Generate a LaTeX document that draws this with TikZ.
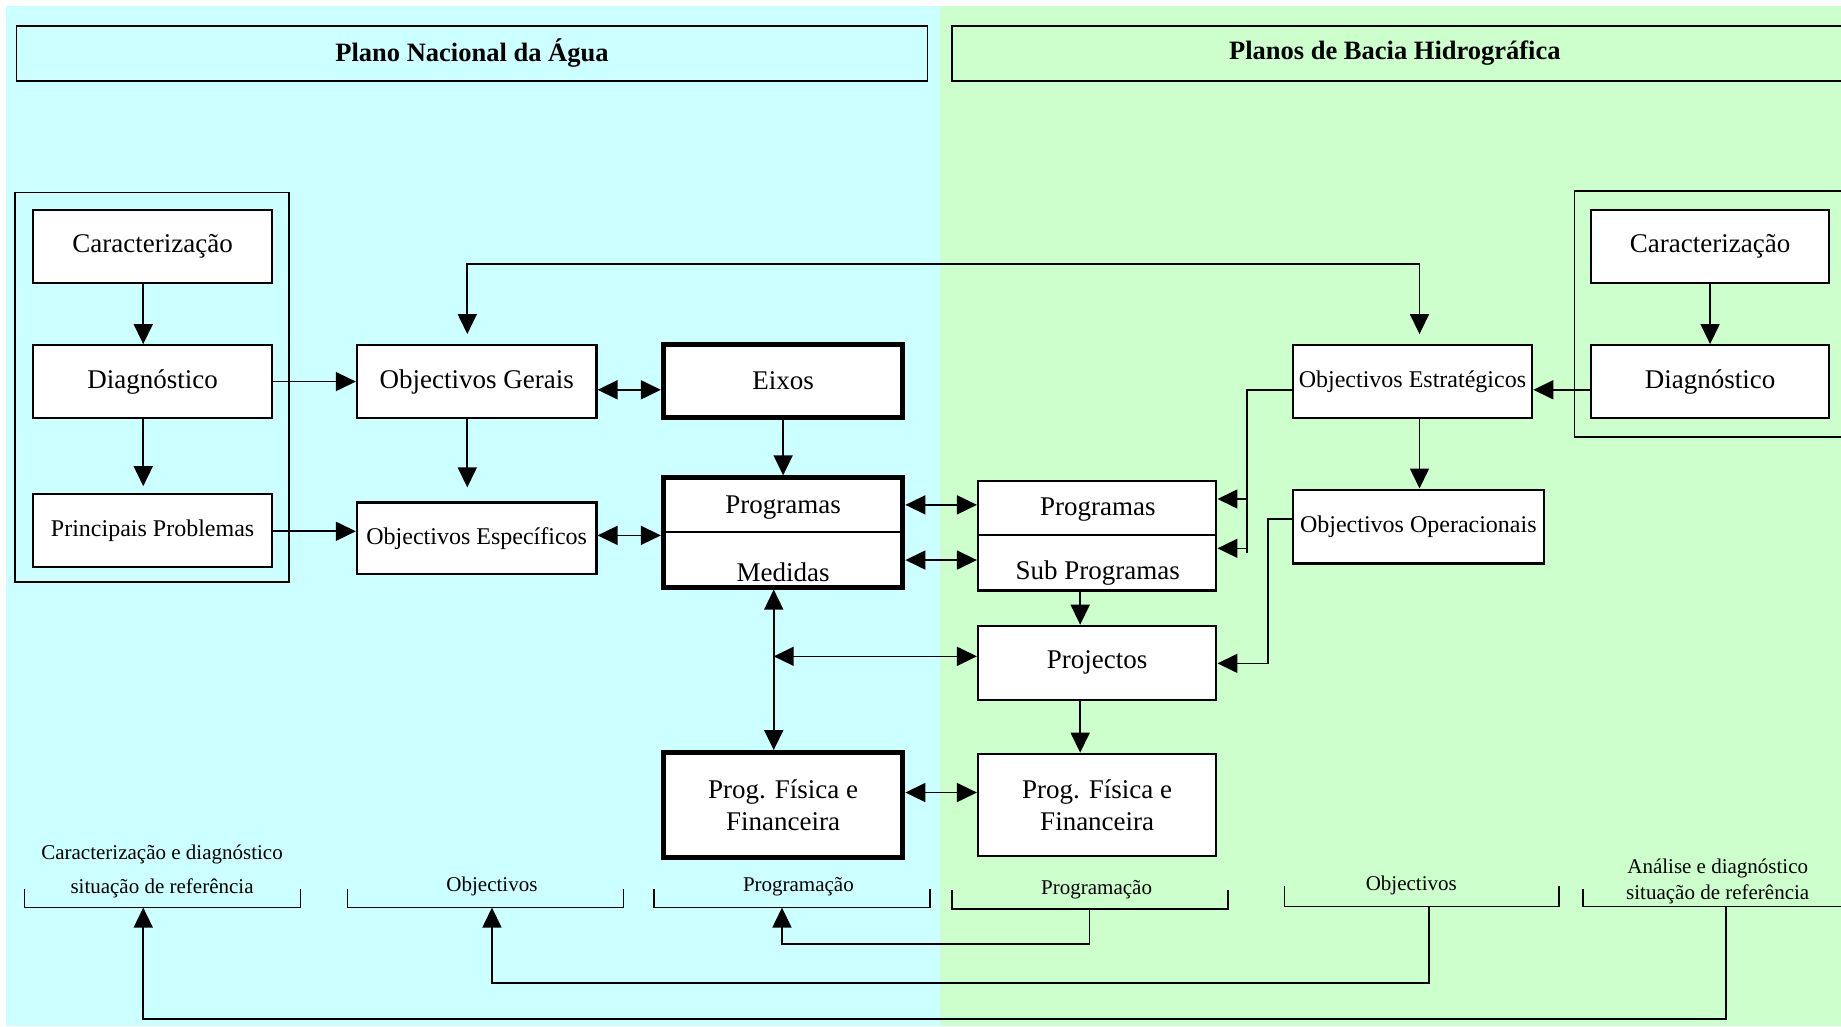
\documentclass[tikz,border=0pt]{standalone}
\usepackage{fontspec}
\setmainfont{Liberation Serif}
\usetikzlibrary{arrows.meta,fit,calc}
\definecolor{cyanbg}{RGB}{204,255,255}
\definecolor{greenbg}{RGB}{204,255,204}
\newcommand\fmain{\fontsize{27}{32}\selectfont}
\newcommand\fsmall{\fontsize{24}{29}\selectfont}
\newcommand\flab{\fontsize{21}{25}\selectfont}
\newcommand\ftitle{\fontsize{26.5}{31}\selectfont\bfseries}
\begin{document}
\begin{tikzpicture}[x=1.1741pt,y=-1.1741pt,
 box/.style={draw, fill=white, line width=2.2pt, inner sep=0pt},
 thickbox/.style={box, line width=5pt},
 frame/.style={draw, line width=1.8pt},
 lbl/.style={font=\flab, inner sep=0pt},
 txt/.style={font=\fmain, inner sep=0pt, align=center},
 stxt/.style={font=\fsmall, inner sep=0pt, align=center},
 arr/.style={-{Triangle[length=20pt,width=19pt]}, line width=1.6pt},
 darr/.style={{Triangle[length=20pt,width=19pt]}-{Triangle[length=20pt,width=19pt]}, line width=1.6pt},
 ln/.style={line width=1.6pt}]
\useasboundingbox (0,0) rectangle (1568,874);
\clip (0,0) rectangle (1568,874);
% backgrounds
\fill[cyanbg] (5,5) rectangle (801,874);
\fill[greenbg] (801,5) rectangle (1568,874);
% titles
\node[frame, inner sep=0pt, fit={(14,22)(790,69)}, label={[font=\ftitle, inner sep=0pt]center:Plano Nacional da Água}] (t1) {};
\node[frame, inner sep=0pt, fit={(811,22)(1580,69)}] (t2) {};
\node[font=\ftitle, inner sep=0pt] (t2t) at (1188,45.5) {Planos de Bacia Hidrográfica};
% frames
\node[frame, inner sep=0pt, fit={(13,164)(246,496)}] (fl) {};
\node[frame, inner sep=0pt, fit={(1341,163)(1590,372)}] (fr) {};
% left column
\node[box, fit={(28,179)(232,241)}, label={[txt]center:Caracterização}] (car1) {};
\node[box, fit={(28,294)(232,356)}, label={[txt]center:Diagnóstico}] (dia1) {};
\node[box, fit={(28,421)(232,483)}, label={[stxt]center:Principais Problemas}] (pp) {};
% objectives
\node[box, fit={(304,294)(508,356)}, label={[txt]center:Objectivos Gerais}] (og) {};
\node[box, fit={(304,428)(508,489)}, label={[stxt]center:Objectivos Específicos}] (oe) {};
% centre left
\node[thickbox, fit={(565,293)(769,356)}, label={[txt]center:Eixos}] (eix) {};
\node[thickbox, fit={(565,407)(769,500)}] (pm) {};
\coordinate (pmdiv) at (0,453);
\draw[line width=2pt] (pm.west |- pmdiv) -- (pm.east |- pmdiv);
\node[txt] (pmt) at (667,432) {Programas};
\node[txt] (pmb) at (667,487) {Medidas};
\node[thickbox, fit={(565,641)(769,730)}, label={[txt]center:{Prog. Física e\\Financeira}}] (pfl) {};
% centre right
\node[box, fit={(833,410)(1036,503)}] (psp) {};
\coordinate (pspdiv) at (0,456);
\draw[line width=2pt] (psp.west |- pspdiv) -- (psp.east |- pspdiv);
\node[txt] (pspt) at (935,434) {Programas};
\node[txt] (pspb) at (935,488) {Sub Programas};
\node[box, fit={(833,533)(1036,596)}, label={[txt]center:Projectos}] (proj) {};
\node[box, fit={(833,642)(1036,729)}, label={[txt]center:{Prog. Física e\\Financeira}}] (pfr) {};
% right objectives
\node[box, fit={(1101,294)(1305,356)}, label={[stxt]center:Objectivos Estratégicos}] (oest) {};
\node[box, fit={(1101,417)(1315,480)}, label={[stxt]center:Objectivos Operacionais}] (oop) {};
% right group
\node[box, fit={(1355,179)(1558,241)}, label={[txt]center:Caracterização}] (car2) {};
\node[box, fit={(1355,294)(1558,356)}, label={[txt]center:Diagnóstico}] (dia2) {};
% helper coordinates
\coordinate (cA) at (122,0);
\coordinate (cB) at (398,0);
\coordinate (cD) at (659,0);
\coordinate (cE) at (920,0);
\coordinate (cF) at (1209,0);
\coordinate (cH) at (1062,0);
\coordinate (cI) at (1080,0);
\coordinate (rTop) at (0,225);
\coordinate (r325) at (0,325);
\coordinate (r332) at (0,332);
\coordinate (r425) at (0,425);
\coordinate (r430) at (0,430);
\coordinate (r442) at (0,442);
\coordinate (r452) at (0,452.5);
\coordinate (r456) at (0,456);
\coordinate (r467) at (0,467);
\coordinate (r471) at (0,471);
\coordinate (r477) at (0,477);
\coordinate (r559) at (0,559);
\coordinate (r565) at (0,565);
\coordinate (r675) at (0,675);
% connectors left
\draw[arr] (car1.south -| cA) -- (dia1.north -| cA);
\draw[arr, shorten >=7pt] (dia1.south -| cA) -- (pp.north -| cA);
\draw[arr] (dia1.east |- r325) -- (og.west |- r325);
\draw[arr] (pp.east |- r452) -- (oe.west |- r452);
\draw[arr, shorten >=14pt] (og.south -| cB) -- (oe.north -| cB);
\draw[darr, shorten <=10pt, shorten >=10pt] (og.north -| cB) -- (cB |- rTop) -- (cF |- rTop) -- (oest.north -| cF);
\draw[darr] (og.east |- r332) -- (eix.west |- r332);
\draw[darr] (oe.east |- r456) -- (pm.west |- r456);
\draw[arr] (eix.south) -- (pm.north);
\draw[darr] (pm.east |- r430) -- (psp.west |- r430);
\draw[darr] (pm.east |- r477) -- (psp.west |- r477);
\draw[darr] (pm.south -| cD) -- (pfl.north -| cD);
\draw[darr] (cD |- r559) -- (proj.west |- r559);
\draw[arr] (psp.south -| cE) -- (proj.north -| cE);
\draw[arr] (proj.south -| cE) -- (pfr.north -| cE);
\draw[darr] (pfl.east |- r675) -- (pfr.west |- r675);
% connectors right
\draw[arr] (car2.south) -- (dia2.north);
\draw[arr] (dia2.west |- r332) -- (oest.east |- r332);
\draw[arr] (oest.south -| cF) -- (oop.north -| cF);
\draw[ln] (oest.west |- r332) -- (cH |- r332) -- (cH |- r471);
\draw[arr] (cH |- r425) -- (psp.east |- r425);
\draw[arr] (cH |- r467) -- (psp.east |- r467);
\draw[arr] (oop.west |- r442) -- (cI |- r442) -- (cI |- r565) -- (proj.east |- r565);
% brackets
\draw[ln] (21,757) -- (21,773) -- (256,773) -- (256,757);
\draw[ln] (296,757) -- (296,773) -- (531,773) -- (531,757);
\draw[ln] (557,757) -- (557,773) -- (792,773) -- (792,757);
\draw[ln] (811,758) -- (811,774) -- (1046,774) -- (1046,758);
\draw[ln] (1094,755) -- (1094,772) -- (1328,772) -- (1328,755);
\draw[ln] (1348,757) -- (1348,772) -- (1590,772);
\node[lbl] (l1a) at (138,728) {Caracterização e diagnóstico};
\node[lbl] (l1b) at (138,756.6) {situação de referência};
\node[lbl] (l2) at (419,755) {Objectivos};
\node[lbl] (l3) at (680,755) {Programação};
\node[lbl] (l4) at (934,758) {Programação};
\node[lbl] (l5) at (1202,754) {Objectivos};
\node[lbl] (l6a) at (1463,739.5) {Análise e diagnóstico};
\node[lbl] (l6b) at (1463,762) {situação de referência};
% bottom connectors
\coordinate (b1i) at (122,773);
\coordinate (b2i) at (419,773);
\coordinate (b3i) at (666,773);
\coordinate (b4o) at (928,774);
\coordinate (b5o) at (1217,772);
\coordinate (b6o) at (1470,772);
\coordinate (rB1) at (0,804);
\coordinate (rB2) at (0,837);
\coordinate (rB3) at (0,868);
\draw[arr] (b4o) -- (b4o |- rB1) -- (b3i |- rB1) -- (b3i);
\draw[arr] (b5o) -- (b5o |- rB2) -- (b2i |- rB2) -- (b2i);
\draw[arr] (b6o) -- (b6o |- rB3) -- (b1i |- rB3) -- (b1i);
\end{tikzpicture}
\end{document}
